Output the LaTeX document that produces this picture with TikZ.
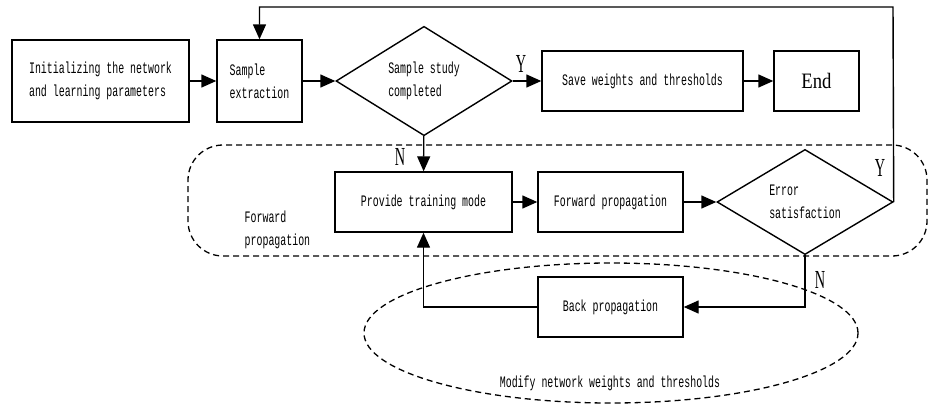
\documentclass[tikz,border=0pt]{standalone}
\usepackage{fontspec}
\newfontfamily\boxfont[FakeStretch=0.62]{Liberation Mono}
\newfontfamily\yesnofont[FakeStretch=0.55]{Liberation Serif}
\newfontfamily\endfont[FakeStretch=0.85]{Liberation Serif}
\usetikzlibrary{arrows.meta,shapes.geometric}

\begin{document}
\begin{tikzpicture}[x=1pt,y=-1pt,
    box/.style={draw,line width=1.4pt,inner sep=0pt,align=left,font={\boxfont\fontsize{16}{23}\selectfont}},
    test/.style={box,diamond,minimum width=176pt,minimum height=102pt},
    zone/.style={draw,dash pattern=on 6pt off 4pt,line width=1.3pt,inner sep=0pt},
    yn/.style={inner sep=0pt,font={\yesnofont\fontsize{26}{26}\selectfont}},
    arr/.style={line width=1.4pt,-{Triangle[length=15pt,width=13pt]}}]
      \useasboundingbox (0,0) rectangle (928,405);
      \node[zone,rounded corners=35pt,minimum width=739pt,minimum height=111pt] (fwdzone) at (557.5,200.5) {};
      \node[zone,ellipse,minimum width=494pt,minimum height=140pt] (modzone) at (611,333) {};
      \node[box,draw=none,anchor=west] (fwdtext) at (244,230) {Forward\\propagation};
      \node[box,draw=none] (modtext) at (610,383) {Modify network weights and thresholds};
      \node[box,minimum width=177pt,minimum height=82pt] (init) at (100.5,81) {Initializing the network\\and learning parameters};
      \node[box,minimum width=85pt,minimum height=82pt] (sample) at (259.5,81) {Sample\\extraction};
      \node[test] (study) at (424,81) {Sample study\\completed};
      \node[box,minimum width=201pt,minimum height=60pt] (save) at (642.5,81) {Save weights and thresholds};
      \node[box,minimum width=85pt,minimum height=60pt,font={\endfont\fontsize{22}{22}\selectfont}] (finish) at (816.5,81) {End};
      \node[box,minimum width=177pt,minimum height=60pt] (train) at (423.5,202) {Provide training mode};
      \node[box,minimum width=145pt,minimum height=60pt] (fwd) at (610.5,202) {Forward propagation};
      \node[test] (err) at (805,202) {Error\\satisfaction};
      \node[box,minimum width=145pt,minimum height=60pt] (back) at (610.5,307) {Back propagation};
      \node[yn] (yes1) at (521,64) {Y};
      \node[yn] (no1) at (400,157) {N};
      \node[yn] (yes2) at (880,168) {Y};
      \node[yn] (no2) at (820,280) {N};
      \coordinate (loop) at (893,7);
      \draw[arr] (init) -- (sample);
      \draw[arr] (sample) -- (study);
      \draw[arr] (study) -- (save);
      \draw[arr] (save) -- (finish);
      \draw[arr] (study) -- (train);
      \draw[arr] (train) -- (fwd);
      \draw[arr] (fwd) -- (err);
      \draw[arr] (err.east) -- (loop) -| (sample.north);
      \draw[arr] (err.south) |- (back.east);
      \draw[arr] (back.west) -| (train.south);
    \end{tikzpicture}
\end{document}
